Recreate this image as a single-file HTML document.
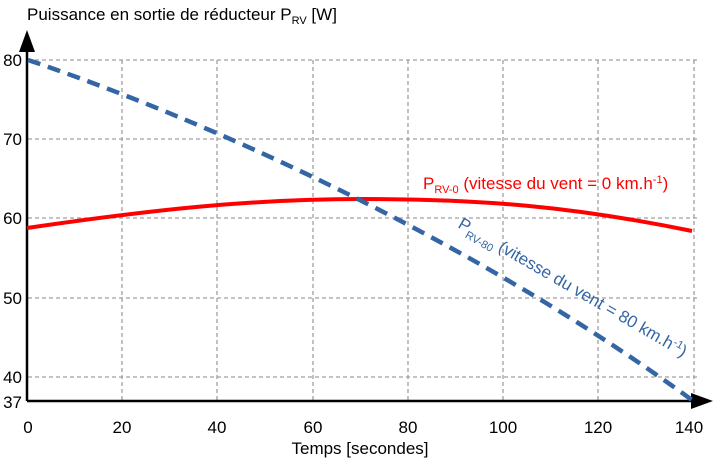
<!DOCTYPE html>
<html><head><meta charset="utf-8"><style>
html,body{margin:0;padding:0;background:#fff;}
svg{display:block;font-family:"Liberation Sans",Arial,sans-serif;}
</style></head><body>
<svg width="718" height="460" viewBox="0 0 718 460">
<g stroke="#a0a0a0" stroke-width="1.3" stroke-dasharray="4,3" fill="none">
<line x1="28" y1="60" x2="698" y2="60"/>
<line x1="28" y1="139" x2="698" y2="139"/>
<line x1="28" y1="218" x2="698" y2="218"/>
<line x1="28" y1="298" x2="698" y2="298"/>
<line x1="28" y1="377" x2="698" y2="377"/>
<line x1="122" y1="60" x2="122" y2="401"/>
<line x1="217" y1="60" x2="217" y2="401"/>
<line x1="313" y1="60" x2="313" y2="401"/>
<line x1="408" y1="60" x2="408" y2="401"/>
<line x1="503" y1="60" x2="503" y2="401"/>
<line x1="598" y1="60" x2="598" y2="401"/>
<line x1="694" y1="60" x2="694" y2="401"/>
</g>
<line x1="27" y1="401" x2="27" y2="48" stroke="#000" stroke-width="2.5"/>
<polygon points="27,30 19,52 35,52" fill="#000"/>
<line x1="27" y1="401" x2="695" y2="401" stroke="#000" stroke-width="2.5"/>
<polygon points="713,401 691,393 691,409" fill="#000"/>
<path d="M27,228 C150,210 250,199 362,199 C480,199 570,206 692,231" stroke="#ff0000" stroke-width="4" fill="none"/>
<path d="M28,60 C200,118 465,235 692,400" stroke="#3465a4" stroke-width="4.5" stroke-dasharray="13,8" fill="none"/>
<g font-size="17" fill="#000">
<text x="27" y="20">Puissance en sortie de réducteur P<tspan font-size="11" dy="4">RV</tspan><tspan dy="-4"> [W]</tspan></text>
<g text-anchor="end">
<text x="22" y="66">80</text>
<text x="22" y="145">70</text>
<text x="22" y="224">60</text>
<text x="22" y="304">50</text>
<text x="22" y="383">40</text>
<text x="22" y="408">37</text>
</g>
<g text-anchor="middle">
<text x="28" y="433">0</text>
<text x="122" y="433">20</text>
<text x="217" y="433">40</text>
<text x="313" y="433">60</text>
<text x="408" y="433">80</text>
<text x="503" y="433">100</text>
<text x="598" y="433">120</text>
<text x="689" y="433">140</text>
<text x="360" y="454">Temps [secondes]</text>
</g>
</g>
<text x="423" y="189" font-size="17" fill="#ff0000">P<tspan font-size="11" dy="4">RV-0</tspan><tspan dy="-4"> (vitesse du vent = 0 km.h</tspan><tspan font-size="11" dy="-6">-1</tspan><tspan dy="6">)</tspan></text>
<text transform="translate(457,227) rotate(30)" font-size="17" fill="#3465a4">P<tspan font-size="11" dy="5">RV-80</tspan><tspan dy="-5"> (vitesse du vent = 80 km.h</tspan><tspan font-size="11" dy="-6">-1</tspan><tspan dy="6">)</tspan></text>
</svg>
</body></html>
